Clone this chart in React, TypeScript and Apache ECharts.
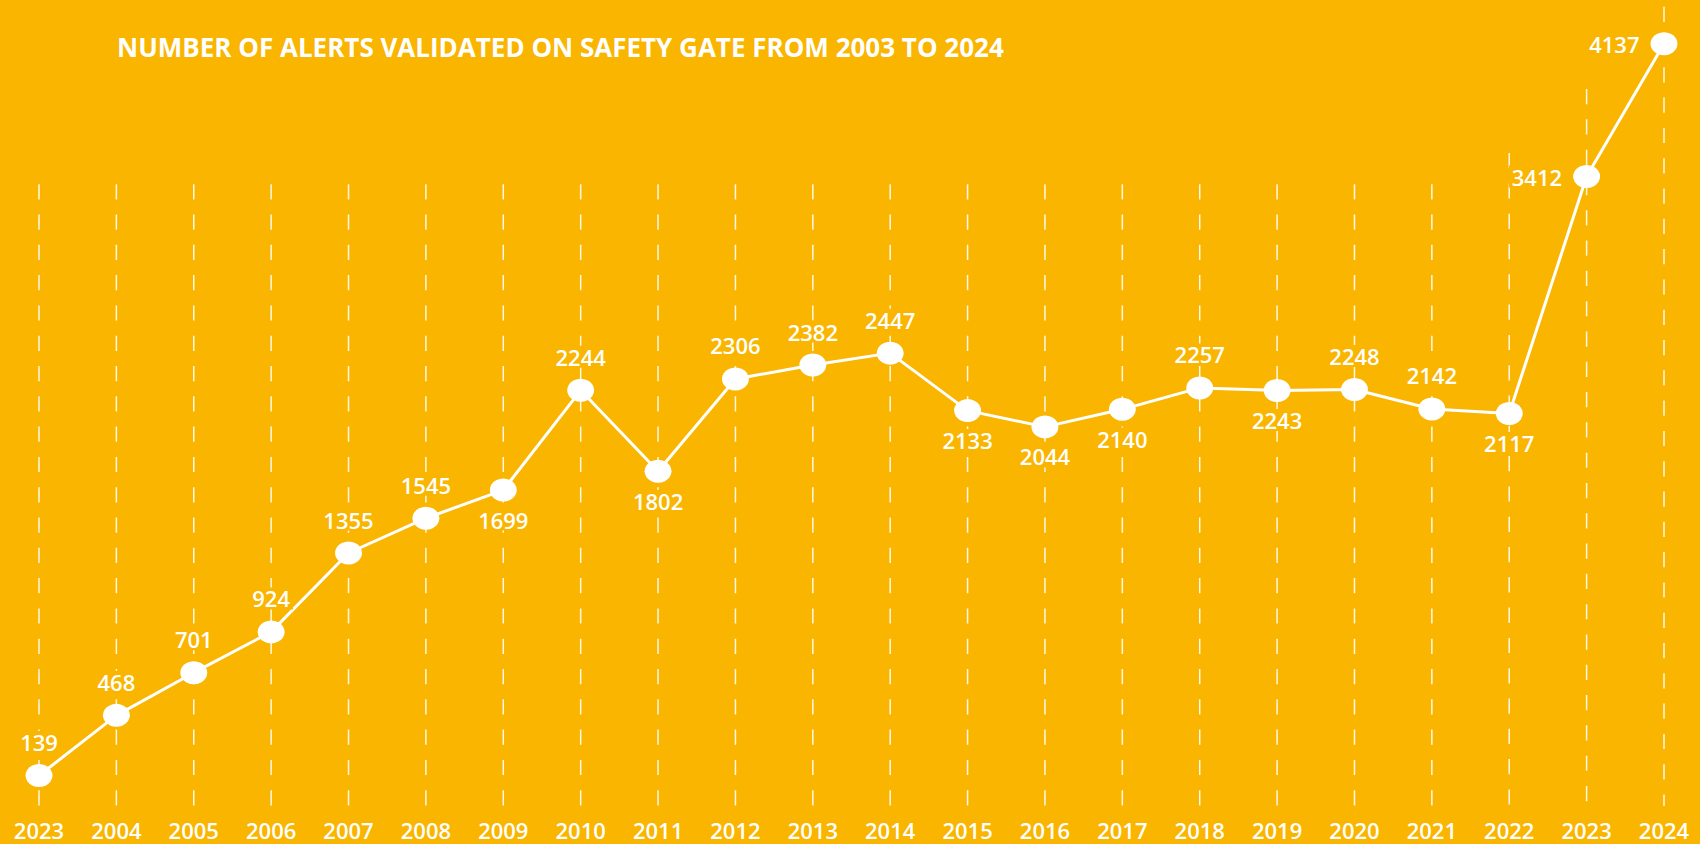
import React, { useEffect, useRef } from "react";
import * as echarts from "echarts";

const years = ["2023", "2004", "2005", "2006", "2007", "2008", "2009", "2010", "2011", "2012", "2013", "2014", "2015", "2016", "2017", "2018", "2019", "2020", "2021", "2022", "2023", "2024"];
const alerts = [139, 468, 701, 924, 1355, 1545, 1699, 2244, 1802, 2306, 2382, 2447, 2133, 2044, 2140, 2257, 2243, 2248, 2142, 2117, 3412, 4137];
const labelSide = ["top", "top", "top", "top", "top", "top", "bottom", "top", "bottom", "top", "top", "top", "bottom", "bottom", "bottom", "top", "bottom", "top", "top", "bottom", "left", "left"];
// top end of each dashed guide line, in value units
const guideTop = [3370, 3370, 3370, 3370, 3370, 3370, 3370, 3370, 3370, 3370, 3370, 3370, 3370, 3370, 3370, 3370, 3370, 3370, 3370, 3540, 3890, 4340];

const TITLE = "NUMBER OF ALERTS VALIDATED ON SAFETY GATE FROM 2003 TO 2024";
const FONT = "'Open Sans', 'Noto Sans', sans-serif";
const BG = "#F9B500";

export default function App() {
  const ref = useRef<HTMLDivElement>(null);
  useEffect(() => {
    if (!ref.current) return;
    const chart = echarts.init(ref.current, null, { renderer: "svg" });
    chart.setOption({
      animation: false,
      backgroundColor: BG,
      title: {
        text: TITLE,
        left: 112,
        top: 29,
        textStyle: { color: "#ffffff", fontSize: 26, fontWeight: "bold", fontFamily: FONT },
      },
      grid: { left: 39, right: 36, top: 14, bottom: 43, containLabel: false, outerBoundsMode: "none" },
      xAxis: {
        type: "category",
        data: years,
        boundaryGap: false,
        axisLine: { show: false },
        axisTick: { show: false },
        splitLine: { show: false },
        axisLabel: { color: "#ffffff", fontSize: 22, fontWeight: 600, fontFamily: FONT, margin: 18, interval: 0 },
      },
      yAxis: {
        type: "value",
        min: 0,
        max: 4300,
        show: false,
        splitLine: { show: false },
      },
      series: [
        {
          type: "custom",
          z: 1,
          silent: true,
          data: guideTop.map((t, i) => [i, t]),
          renderItem: (params: any, api: any) => {
            const i = api.value(0);
            const top = api.coord([i, api.value(1)]);
            const base = api.coord([i, 0]);
            return {
              type: "line",
              shape: { x1: top[0], y1: top[1], x2: top[0], y2: base[1] + 5 },
              style: { stroke: "rgba(255,255,255,0.9)", lineWidth: 1.5, lineDash: [15.2, 15.1] },
            };
          },
        },
        {
          type: "line",
          z: 3,
          data: alerts.map((v, i) => ({
            value: v,
            label: { position: labelSide[i], distance: labelSide[i] === "top" ? 11 : labelSide[i] === "bottom" ? 7 : 8 },
          })),
          symbol: "circle",
          symbolSize: [27, 23],
          itemStyle: { color: "#ffffff" },
          lineStyle: { color: "#ffffff", width: 3 },
          label: {
            show: true,
            color: "#ffffff",
            fontSize: 22,
            fontWeight: 600,
            fontFamily: FONT,
            backgroundColor: BG,
            padding: [0, 3],
          },
        },
      ],
    });
    return () => chart.dispose();
  }, []);
  return <div ref={ref} style={{ position: "fixed", left: 0, top: 0, width: 1700, height: 844 }} />;
}
